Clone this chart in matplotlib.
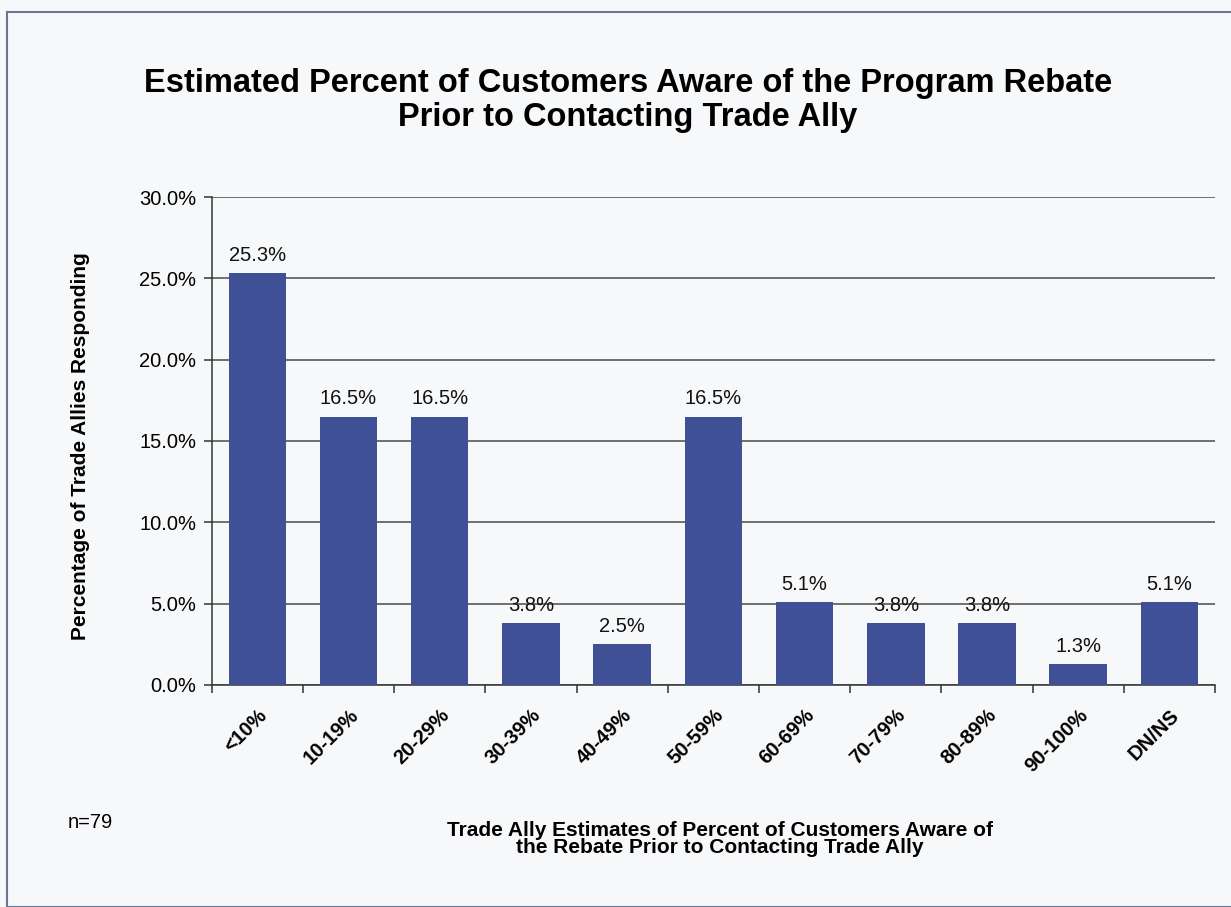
import numpy as np
import matplotlib.pyplot as plt
from matplotlib.patches import Rectangle
from matplotlib.ticker import FuncFormatter, FixedLocator

plt.rcParams['font.family'] = ['Liberation Sans', 'DejaVu Sans']

categories = ['<10%', '10-19%', '20-29%', '30-39%', '40-49%', '50-59%',
              '60-69%', '70-79%', '80-89%', '90-100%', 'DN/NS']
shares = [25.3, 16.5, 16.5, 3.8, 2.5, 16.5, 5.1, 3.8, 3.8, 1.3, 5.1]

bar_color = '#3f5096'
bg = '#f7f8fa'

fig = plt.figure(figsize=(12.31, 9.07), dpi=100, facecolor=bg)
# outer frame around the chart
fig.patches.append(Rectangle((0.006, 0.0), 1.2, 0.987, transform=fig.transFigure,
                             fill=False, edgecolor='#6b7598', linewidth=1.5))

ax = fig.add_axes([0.172, 0.2448, 0.815, 0.538])
ax.set_facecolor(bg)

x = np.arange(len(categories))
ax.bar(x, shares, width=0.63, color=bar_color, zorder=3)
for xi, v in zip(x, shares):
    ax.text(xi, v + 0.5, f'{v:.1f}%', ha='center', va='bottom',
            fontsize=14.5, color='#111111', zorder=4)

ax.set_xlim(-0.5, len(categories) - 0.5)
ax.set_ylim(0, 30)
ax.set_yticks(np.arange(0, 30.1, 5))
ax.yaxis.set_major_formatter(FuncFormatter(lambda v, p: f'{v:.1f}%'))
ax.grid(axis='y', color='#4a4a4a', linewidth=1.1, zorder=1)

ax.set_xticks(x)
ax.set_xticklabels(categories, rotation=45, ha='right', rotation_mode='anchor',
                   fontsize=14.5, fontweight='bold')
ax.xaxis.set_minor_locator(FixedLocator(np.arange(-0.5, len(categories), 1)))
ax.tick_params(axis='x', which='major', length=0, pad=15)
ax.tick_params(axis='x', which='minor', length=6, width=1.1, color='#333333')
ax.tick_params(axis='y', length=6, width=1.1, color='#333333', labelsize=14.5, pad=5)

for side in ['top', 'right']:
    ax.spines[side].set_visible(False)
for side in ['left', 'bottom']:
    ax.spines[side].set_color('#333333')
    ax.spines[side].set_linewidth(1.1)

ax.set_ylabel('Percentage of Trade Allies Responding', fontsize=15,
              fontweight='bold')
ax.yaxis.set_label_coords(-0.121, 0.49)

fig.text(0.51, 0.889, 'Estimated Percent of Customers Aware of the Program Rebate\n'
         'Prior to Contacting Trade Ally', ha='center', va='center',
         fontsize=23.5, fontweight='bold', linespacing=1.12)

fig.text(0.585, 0.075, 'Trade Ally Estimates of Percent of Customers Aware of\n'
         'the Rebate Prior to Contacting Trade Ally', ha='center', va='center',
         fontsize=15, fontweight='bold', linespacing=0.85)
fig.text(0.055, 0.093, 'n=79', ha='left', va='center', fontsize=14.5)

fig.savefig('out.png', dpi=100, facecolor=bg)
